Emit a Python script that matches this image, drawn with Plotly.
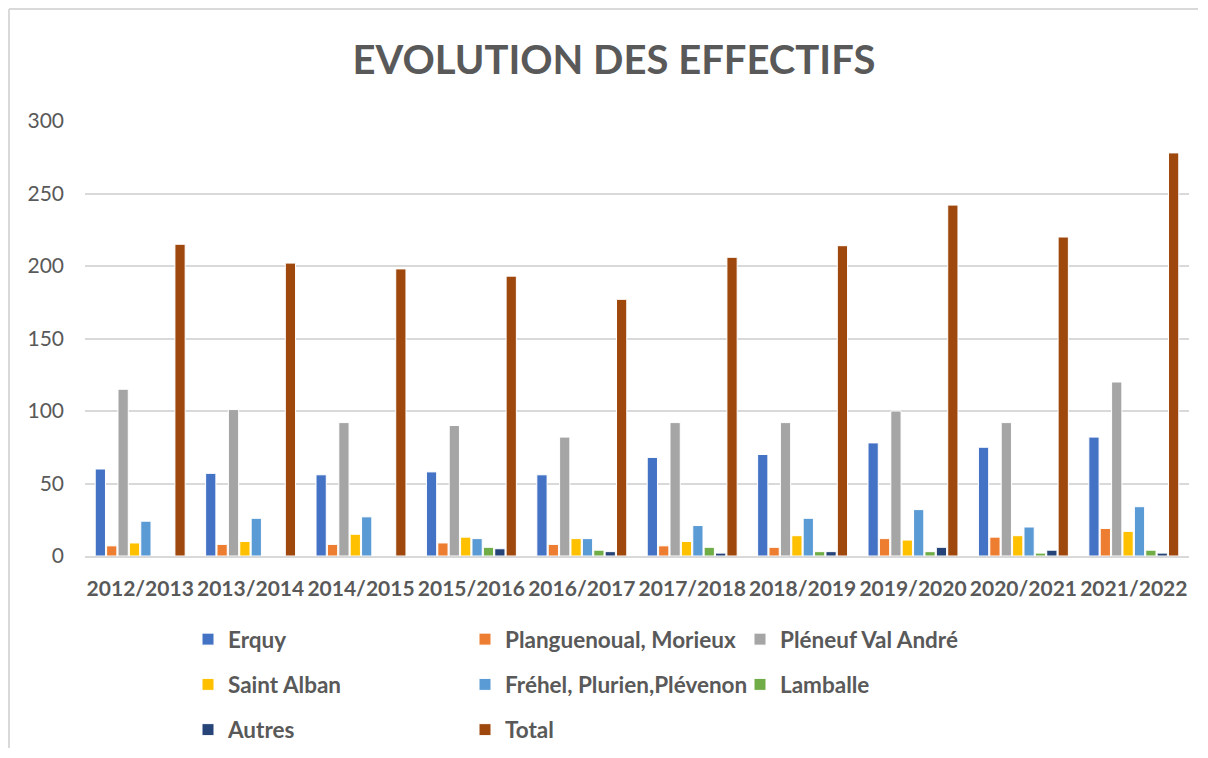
import plotly.graph_objects as go

years = ["2012/2013", "2013/2014", "2014/2015", "2015/2016", "2016/2017",
         "2017/2018", "2018/2019", "2019/2020", "2020/2021", "2021/2022"]

erquy = [60, 57, 56, 58, 56, 68, 70, 78, 75, 82]
planguenoual = [7, 8, 8, 9, 8, 7, 6, 12, 13, 19]
pleneuf = [115, 101, 92, 90, 82, 92, 92, 100, 92, 120]
saint_alban = [9, 10, 15, 13, 12, 10, 14, 11, 14, 17]
frehel = [24, 26, 27, 12, 12, 21, 26, 32, 20, 34]
lamballe = [0, 0, 0, 6, 4, 6, 3, 3, 2, 4]
autres = [0, 0, 0, 5, 3, 2, 3, 6, 4, 2]
total = [215, 202, 198, 193, 177, 206, 214, 242, 220, 278]

series = [
    ("Erquy", erquy, "#4472C4", "legend"),
    ("Planguenoual, Morieux", planguenoual, "#ED7D31", "legend2"),
    ("Pléneuf Val André", pleneuf, "#A5A5A5", "legend3"),
    ("Saint Alban", saint_alban, "#FFC000", "legend"),
    ("Fréhel, Plurien,Plévenon", frehel, "#5B9BD5", "legend2"),
    ("Lamballe", lamballe, "#70AD47", "legend3"),
    ("Autres", autres, "#264478", "legend"),
    ("Total", total, "#9E480E", "legend2"),
]

FONT = "Lato"
TXT = "#595959"

# page body has an 8px default margin; design in screen coords, then shift
O = 8
W, H = 1192, 740
PX0, PX1 = 85, 1189     # plot area left/right on screen
PY0, PY1 = 121, 556     # plot area top/bottom on screen
L, R = PX0 - O, (W + O) - PX1
T, B = PY0 - O, (H + O) - PY1
PW, PH = PX1 - PX0, PY1 - PY0


def px_x(p):
    return (p - PX0) / PW


def px_y(p):
    return (PY1 - p) / PH


fig = go.Figure()
for name, vals, color, lg in series:
    fig.add_trace(go.Bar(
        name=name, x=years, y=vals,
        marker=dict(color=color, line=dict(color="white", width=1)),
        legend=lg, legendgroup=name,
    ))

leg_common = dict(
    orientation="v", xanchor="left", yanchor="top",
    traceorder="grouped", tracegroupgap=13,
    font=dict(family=FONT, size=22.5, color=TXT, weight="bold"),
    bgcolor="rgba(0,0,0,0)", itemwidth=30,
)

LEG_TOP = 618

fig.update_layout(
    width=W, height=H,
    margin=dict(l=L, r=R, t=T, b=B, autoexpand=False),
    paper_bgcolor="white", plot_bgcolor="white",
    barmode="group", bargap=0.175, bargroupgap=0.1,
    title=dict(
        text="EVOLUTION DES EFFECTIFS",
        x=(614 - O) / W, xanchor="center", xref="container",
        y=1 - (60 - O) / H, yanchor="middle", yref="container",
        font=dict(family=FONT, size=40, color=TXT, weight="bold"),
    ),
    xaxis=dict(
        type="category", showgrid=False, showline=True,
        linecolor="#D9D9D9", linewidth=2, ticks="",
        tickfont=dict(family=FONT, size=21, color=TXT, weight="bold"),
        ticklabelstandoff=13,
    ),
    yaxis=dict(
        range=[0, 300], dtick=50, showgrid=True, gridcolor="#D9D9D9",
        gridwidth=1.5, zeroline=False, showline=False, ticks="",
        tickfont=dict(family=FONT, size=21, color=TXT),
        ticklabelstandoff=20,
    ),
    legend=dict(x=px_x(188), y=px_y(LEG_TOP), **leg_common),
    legend2=dict(x=px_x(465), y=px_y(LEG_TOP), **leg_common),
    legend3=dict(x=px_x(740), y=px_y(LEG_TOP), **leg_common),
    shapes=[
        dict(type="line", xref="paper", yref="paper",
             x0=px_x(9), x1=px_x(W + O - 2), y0=px_y(9), y1=px_y(9),
             line=dict(color="#D9D9D9", width=2)),
        dict(type="line", xref="paper", yref="paper",
             x0=px_x(9), x1=px_x(9), y0=px_y(9), y1=px_y(H + O),
             line=dict(color="#D9D9D9", width=2)),
    ],
)

fig.write_html("out.html")
